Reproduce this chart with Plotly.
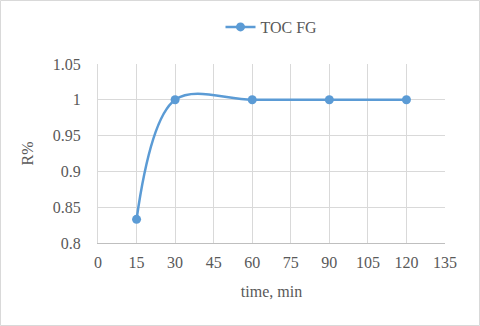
import plotly.graph_objects as go

time_min = [15, 30, 60, 90, 120]
r_pct = [0.833, 1.0, 1.0, 1.0, 1.0]
x_ticks = [0, 15, 30, 45, 60, 75, 90, 105, 120, 135]
y_ticks = [0.8, 0.85, 0.9, 0.95, 1.0, 1.05]
y_labels = ["0.8", "0.85", "0.9", "0.95", "1", "1.05"]

blue = "#5B9BD5"
grid = "#D9D9D9"
text_color = "#595959"
font = "Times New Roman, Liberation Serif, serif"

fig = go.Figure(go.Scatter(
    x=time_min, y=r_pct, mode="lines+markers", name="TOC FG",
    line=dict(color=blue, width=2.5, shape="spline", smoothing=1),
    marker=dict(color=blue, size=9),
))

W, H = 480, 326
ml, mr, mt, mb = 98, 35, 64, 83
pw, ph = W - ml - mr, H - mt - mb
# light border round the whole chart
fig.add_shape(
    type="rect", xref="paper", yref="paper",
    x0=(0.5 - ml) / pw, x1=(W - 0.5 - ml) / pw,
    y0=-(mb - 0.5) / ph, y1=(ph + mt - 0.5) / ph,
    line=dict(color=grid, width=1), layer="below",
)

fig.update_layout(
    width=W, height=H, margin=dict(l=ml, r=mr, t=mt, b=mb, autoexpand=False),
    paper_bgcolor="white", plot_bgcolor="white",
    font=dict(family=font, size=16, color=text_color),
    showlegend=True,
    legend=dict(orientation="h", x=0.5, xanchor="center", yref="container",
                y=1 - 27 / H, yanchor="middle", font=dict(family=font, size=16, color=text_color)),
    xaxis=dict(range=[0, 135], tickvals=x_ticks, showgrid=True, gridcolor=grid, gridwidth=1,
               showline=True, linecolor="#BFBFBF", linewidth=1, zeroline=False,
               ticks="outside", ticklen=5, tickcolor="rgba(0,0,0,0)", automargin=False,
               tickfont=dict(family=font, size=16, color=text_color),
               title=dict(text="time, min", font=dict(family=font, size=16, color=text_color))),
    yaxis=dict(range=[0.8, 1.05], tickvals=y_ticks, ticktext=y_labels, showgrid=True,
               gridcolor=grid, gridwidth=1, showline=True, linecolor=grid, linewidth=1,
               zeroline=False, ticks="outside", ticklen=13, tickcolor="rgba(0,0,0,0)",
               automargin=False, tickfont=dict(family=font, size=16, color=text_color),
               title=dict(text="R%", font=dict(family=font, size=16, color=text_color))),
)

fig.write_html("out.html", config={"displayModeBar": False},
               post_script="document.body.style.margin='0';")
